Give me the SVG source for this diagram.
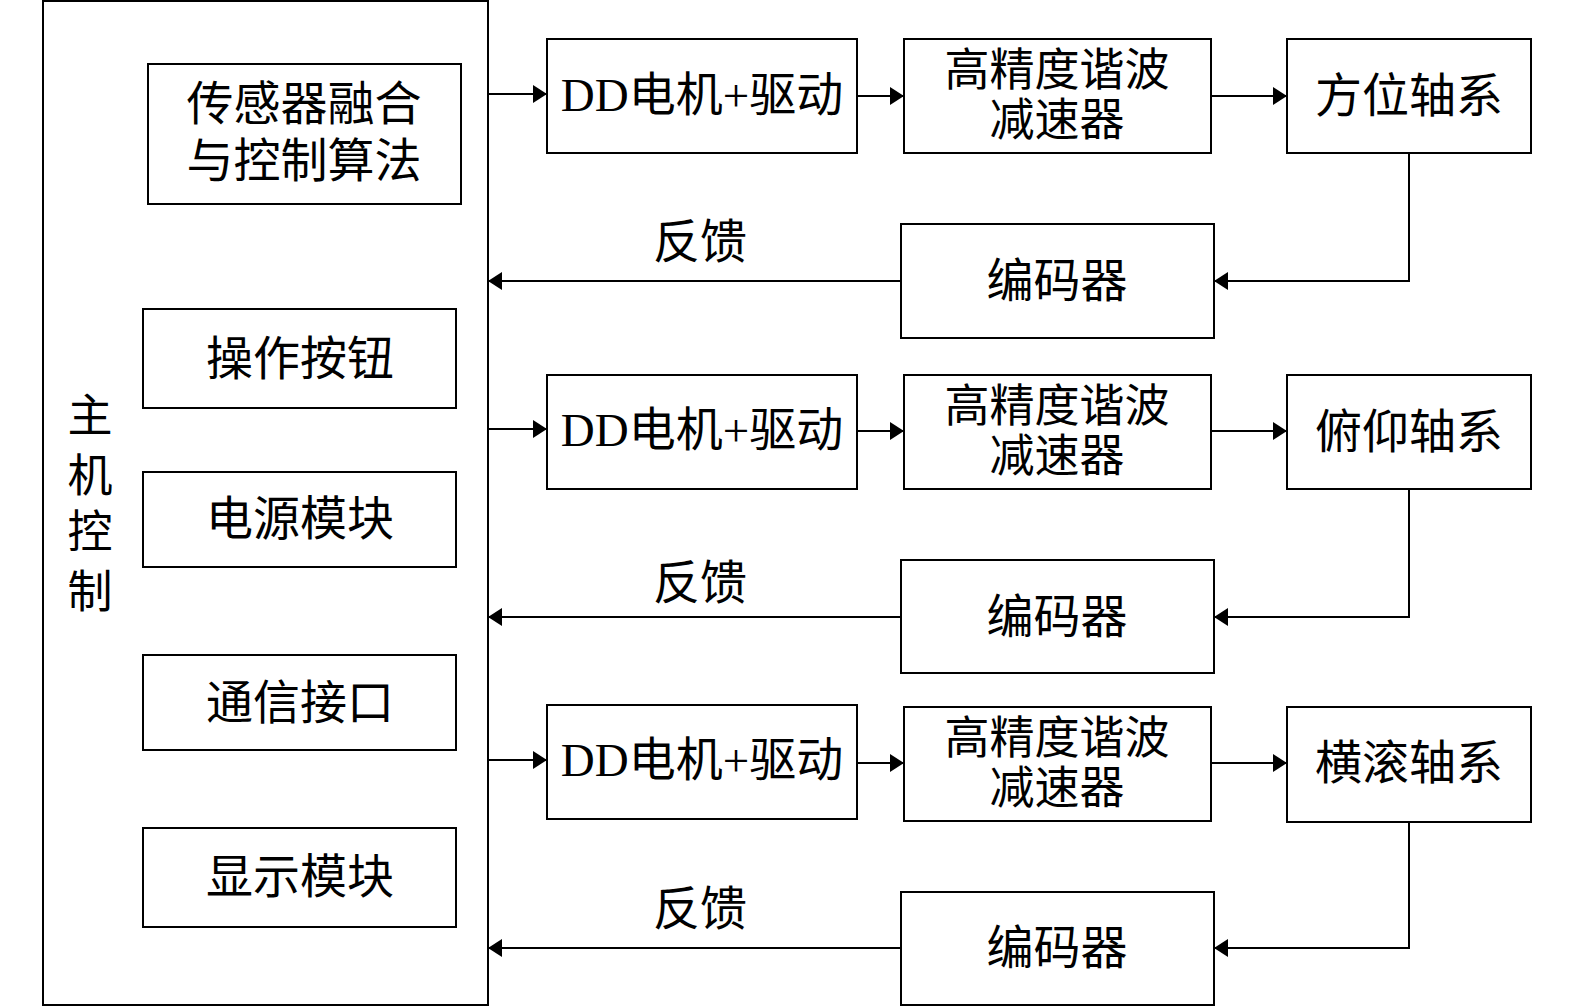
<svg xmlns="http://www.w3.org/2000/svg" width="1575" height="1007" viewBox="0 0 1575 1007">
<style>
rect{fill:#fff;stroke:#000;stroke-width:2}
text{font-family:"Liberation Serif","Noto Sans CJK SC",serif;font-size:47px;fill:#000;text-anchor:middle;dominant-baseline:central}
.r{font-size:45px}
.c{fill:none;stroke:#000;stroke-width:2}
</style>
<defs>
<marker id="ah" markerUnits="userSpaceOnUse" markerWidth="14" markerHeight="18" refX="14" refY="9" orient="auto">
<path d="M0,0 L14,9 L0,18 z" fill="#000"/>
</marker>
</defs>
<rect x="0" y="0" width="1575" height="1007" style="stroke:none"/>
<g id="main"><rect x="43" y="1" width="445" height="1004"/>
<text x="90" y="417" style="font-size:45px">主</text>
<text x="90" y="477" style="font-size:45px">机</text>
<text x="90" y="533" style="font-size:45px">控</text>
<text x="90" y="593" style="font-size:45px">制</text></g>
<g id="sensor"><rect x="148" y="64" width="313" height="140"/><text x="304" y="104">传感器融合<tspan x="304" dy="57">与控制算法</tspan></text></g>
<g id="buttons"><rect x="143" y="309" width="313" height="99"/><text x="300" y="359">操作按钮</text></g>
<g id="power"><rect x="143" y="472" width="313" height="95"/><text x="300" y="519">电源模块</text></g>
<g id="comm"><rect x="143" y="655" width="313" height="95"/><text x="300" y="703">通信接口</text></g>
<g id="display"><rect x="143" y="828" width="313" height="99"/><text x="300" y="877">显示模块</text></g>

<g id="dd1"><rect x="547" y="39" width="310" height="114"/><text x="702" y="95">DD电机+驱动</text></g>
<g id="red1"><rect x="904" y="39" width="307" height="114"/><text class="r" x="1057" y="71">高精度谐波<tspan x="1057" dy="50">减速器</tspan></text></g>
<g id="axis1"><rect x="1287" y="39" width="244" height="114"/><text x="1409" y="96">方位轴系</text></g>
<g id="enc1"><rect x="901" y="224" width="313" height="114"/><text x="1057" y="281">编码器</text></g>

<g id="dd2"><rect x="547" y="375" width="310" height="114"/><text x="702" y="430">DD电机+驱动</text></g>
<g id="red2"><rect x="904" y="375" width="307" height="114"/><text class="r" x="1057" y="407">高精度谐波<tspan x="1057" dy="50">减速器</tspan></text></g>
<g id="axis2"><rect x="1287" y="375" width="244" height="114"/><text x="1409" y="432">俯仰轴系</text></g>
<g id="enc2"><rect x="901" y="560" width="313" height="113"/><text x="1057" y="617">编码器</text></g>

<g id="dd3"><rect x="547" y="705" width="310" height="114"/><text x="702" y="760">DD电机+驱动</text></g>
<g id="red3"><rect x="904" y="707" width="307" height="114"/><text class="r" x="1057" y="739">高精度谐波<tspan x="1057" dy="50">减速器</tspan></text></g>
<g id="axis3"><rect x="1287" y="707" width="244" height="115"/><text x="1409" y="763">横滚轴系</text></g>
<g id="enc3"><rect x="901" y="892" width="313" height="113"/><text x="1057" y="948">编码器</text></g>

<g id="connectors">
<path class="c" marker-end="url(#ah)" d="M488,94 L547,94"/>
<path class="c" marker-end="url(#ah)" d="M857,96 L904,96"/>
<path class="c" marker-end="url(#ah)" d="M1211,96 L1287,96"/>
<path class="c" marker-end="url(#ah)" d="M1409,153 L1409,281 L1214,281"/>
<path class="c" marker-end="url(#ah)" d="M901,281 L488,281"/>
<path class="c" marker-end="url(#ah)" d="M488,429 L547,429"/>
<path class="c" marker-end="url(#ah)" d="M857,431 L904,431"/>
<path class="c" marker-end="url(#ah)" d="M1211,431 L1287,431"/>
<path class="c" marker-end="url(#ah)" d="M1409,489 L1409,617 L1214,617"/>
<path class="c" marker-end="url(#ah)" d="M901,617 L488,617"/>
<path class="c" marker-end="url(#ah)" d="M488,760 L547,760"/>
<path class="c" marker-end="url(#ah)" d="M857,763 L904,763"/>
<path class="c" marker-end="url(#ah)" d="M1211,763 L1287,763"/>
<path class="c" marker-end="url(#ah)" d="M1409,822 L1409,948 L1214,948"/>
<path class="c" marker-end="url(#ah)" d="M901,948 L488,948"/>
<text x="700" y="242">反馈</text>
<text x="700" y="583">反馈</text>
<text x="700" y="909">反馈</text>
</g>
</svg>
